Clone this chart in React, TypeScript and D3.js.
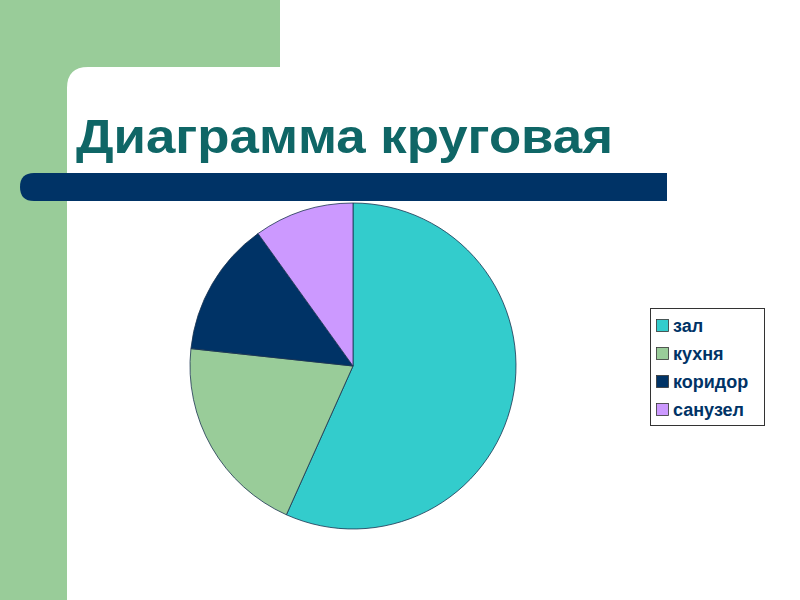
import { useMemo } from "react";
import * as d3 from "d3";

/* ------------------------------------------------------------------ */
/*  Data                                                              */
/* ------------------------------------------------------------------ */

const categories = ["зал", "кухня", "коридор", "санузел"];
const values = [56.7, 20, 13.4, 9.9];
const sliceColors = ["#33CCCC", "#99CC99", "#003366", "#CC99FF"];

const title = "Диаграмма круговая";

/* ------------------------------------------------------------------ */
/*  Component                                                         */
/* ------------------------------------------------------------------ */

const W = 800;
const H = 600;
const green = "#99CC99";
const navy = "#003366";

export default function App() {
  const rows = useMemo(
    () => categories.map((c, i) => ({ name: c, value: values[i], color: sliceColors[i] })),
    [],
  );

  const arcs = useMemo(
    () =>
      d3
        .pie<{ name: string; value: number; color: string }>()
        .sort(null)
        .value((d) => d.value)(rows),
    [rows],
  );

  const arcGen = d3
    .arc<d3.PieArcDatum<{ name: string; value: number; color: string }>>()
    .innerRadius(0)
    .outerRadius(163);

  const legendY = d3.scalePoint<string>().domain(categories).range([326, 410]);

  return (
    <div style={{ position: "absolute", left: 0, top: 0 }}>
      <svg width={W} height={H} style={{ display: "block" }}>
        <rect x={0} y={0} width={W} height={H} fill="#fff" />
        {/* slide decoration */}
        <rect x={0} y={0} width={280} height={67} fill={green} />
        <rect x={0} y={0} width={67} height={H} fill={green} />
        <path d="M66,66 L88,66 L88,67 Q67,67 67,88 L66,88 Z" fill={green} />
        <text
          x={76}
          y={153}
          fontFamily="'Liberation Sans', Arial, sans-serif"
          fontWeight="bold"
          fontSize={49}
          fill="#0F6666"
          textLength={537}
          lengthAdjust="spacingAndGlyphs"
        >
          {title}
        </text>
        <path d="M34,173 L667,173 L667,201 L34,201 Q20,201 20,187 Q20,173 34,173 Z" fill={navy} />

        {/* pie */}
        <g transform="translate(353,366)">
          {arcs.map((a) => (
            <path key={a.data.name} d={arcGen(a) ?? ""} fill={a.data.color} stroke="#1a3350" strokeWidth={0.8} />
          ))}
        </g>

        {/* legend */}
        <rect x={650.5} y={308.5} width={114} height={117} fill="#fff" stroke="#333" strokeWidth={1} />
        {rows.map((r) => {
          const cy = legendY(r.name) ?? 0;
          return (
            <g key={r.name}>
              <rect x={656.5} y={cy - 6.5} width={12} height={12} fill={r.color} stroke="#333" strokeWidth={0.8} />
              <text
                x={673}
                y={cy}
                dominantBaseline="central"
                fontFamily="'Liberation Sans', Arial, sans-serif"
                fontWeight="bold"
                fontSize={18}
                fill={navy}
              >
                {r.name}
              </text>
            </g>
          );
        })}
      </svg>
    </div>
  );
}
